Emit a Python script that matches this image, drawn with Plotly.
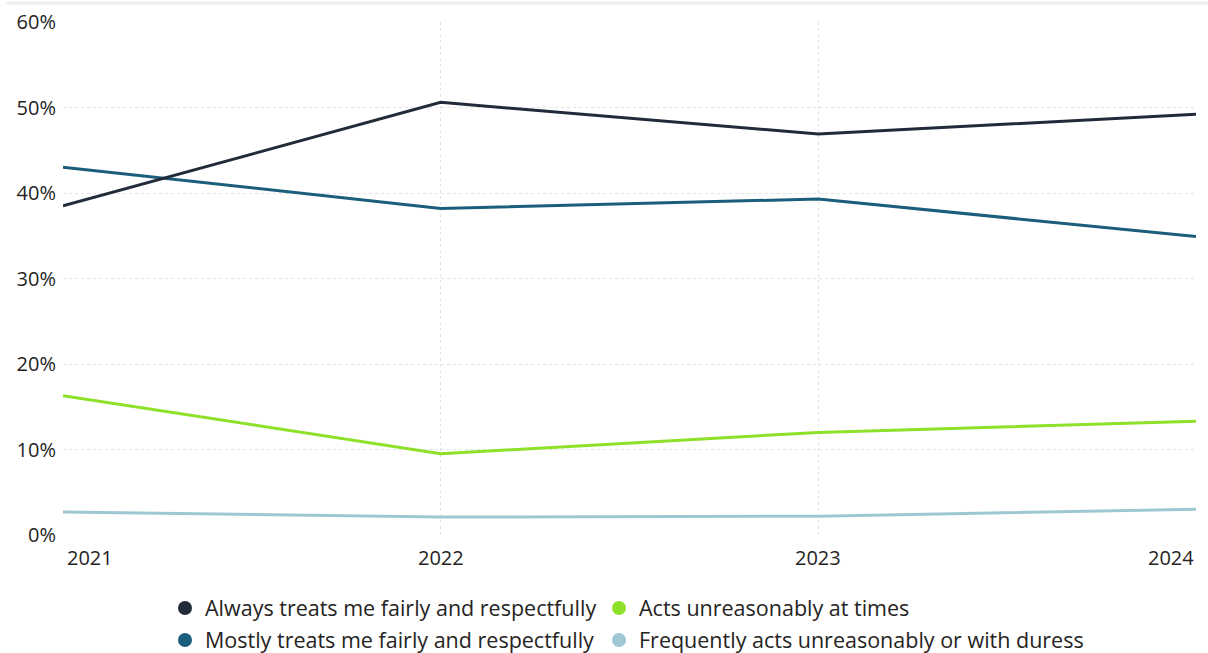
import plotly.graph_objects as go

years = [2021, 2022, 2023, 2024]
year_labels = ["2021", "2022", "2023", "2024"]
y_ticks = [0, 10, 20, 30, 40, 50, 60]
y_tick_labels = ["0%", "10%", "20%", "30%", "40%", "50%", "60%"]
always = [38.5, 50.6, 46.9, 49.2]
mostly = [43.0, 38.2, 39.3, 34.9]
acts = [16.3, 9.5, 12.0, 13.3]
frequently = [2.7, 2.1, 2.2, 3.0]

series = [
    ("Always treats me fairly and respectfully", always, "#212b3a"),
    ("Acts unreasonably at times", acts, "#8ee02a"),
    ("Mostly treats me fairly and respectfully", mostly, "#1b5e7b"),
    ("Frequently acts unreasonably or with duress", frequently, "#9ec8d1"),
]
# legend placement: (left pixel, row centre pixel) for each entry
legend_pos = [(165, 608), (599, 608), (165, 640), (599, 640)]

FONT = "Open Sans"
TXT = "#252423"
W, H = 1208, 653
L, R, T, B = 63, 12, 22, 118
fig = go.Figure()
for name, vals, col in reversed(series):
    fig.add_trace(go.Scatter(x=years, y=vals, mode="lines", line=dict(color=col, width=3),
                             showlegend=False, name=name))
legend_layout = {}
for i, (name, vals, col) in enumerate(series):
    key = "legend" if i == 0 else f"legend{i + 1}"
    fig.add_trace(go.Scatter(x=[None], y=[None], mode="markers", name=name, legend=key,
                             marker=dict(color=col, size=14, symbol="circle")))
    px, py = legend_pos[i]
    legend_layout[key] = dict(orientation="h", x=px / W, xref="container", xanchor="left",
                              y=1 - py / H, yref="container", yanchor="middle",
                              font=dict(family=FONT, size=21.5, color=TXT), itemwidth=30,
                              bgcolor="rgba(0,0,0,0)")

for i, (yr, lab) in enumerate(zip(years, year_labels)):
    anchor = "left" if i == 0 else ("right" if i == len(years) - 1 else "center")
    fig.add_annotation(x=yr, y=-0.043, xref="x", yref="paper", text=lab, showarrow=False,
                       xanchor=anchor, yanchor="middle", xshift=(2 if i == 0 else 0),
                       font=dict(family=FONT, size=20, color=TXT))

fig.add_shape(type="line", xref="paper", yref="paper", x0=-0.05, x1=1.02, y0=1.037, y1=1.037,
              line=dict(color="#eeeeee", width=3))

fig.update_layout(
    width=W, height=H,
    margin=dict(l=L, r=R, t=T, b=B),
    paper_bgcolor="white", plot_bgcolor="white",
    font=dict(family=FONT, size=20, color=TXT),
    xaxis=dict(range=[2021, 2024], tickvals=years, showticklabels=False, showgrid=True,
               gridcolor="#e3e3e3", griddash="dot", gridwidth=1, zeroline=False, showline=False),
    yaxis=dict(range=[0, 60], tickvals=y_ticks, ticktext=y_tick_labels, automargin=False,
               showgrid=True, gridcolor="#e3e3e3", griddash="dot", gridwidth=1, zeroline=False,
               showline=False, ticklabelstandoff=6, tickfont=dict(size=20)),
    **legend_layout,
)
fig.write_html("out.html")
